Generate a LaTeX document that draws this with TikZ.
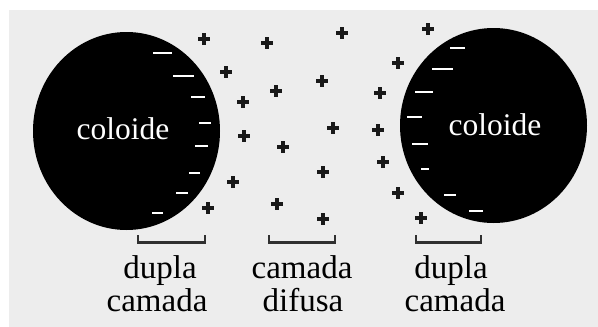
\documentclass[tikz,border=0pt]{standalone}
\usepackage{fontspec}
\setmainfont{Liberation Serif}
\definecolor{bg}{RGB}{237,237,237}
\definecolor{ink}{RGB}{25,25,25}
\begin{document}
\begin{tikzpicture}[x=1pt,y=-1pt,
  plus/.style={draw=ink,line width=3.1pt},
  minus/.style={draw=white,line width=2pt},
  bracket/.style={draw=ink!90,line width=2.6pt},
  colloid/.style={fill=black},
  lbl/.style={font=\fontsize{33}{35}\selectfont,align=center,text=black,inner sep=0pt},
  ctxt/.style={font=\fontsize{31.5}{33}\selectfont,text=white,inner sep=0pt,anchor=base}]
\useasboundingbox (0,0) rectangle (598,327);
\fill[white] (0,0) rectangle (598,327);
\fill[bg] (9,10) rectangle (598,327);
% colloids
\fill[colloid] (126.5,131) ellipse [x radius=93.5,y radius=99];
\fill[colloid] (493.5,125.5) ellipse [x radius=93.5,y radius=97.5];
\node[ctxt] (c1) at (123,139) {coloide};
\node[ctxt] (c2) at (495,135) {coloide};
% minus signs, left
\foreach \a/\b/\y in {153/172/53,173/194/76,191/205/97,199/211/123,195/208/146,189/200/173,176/188/193,152/163/213}
  \draw[minus] (\a,\y) -- (\b,\y);
% minus signs, right
\foreach \a/\b/\y in {450/465/48,432/453/69,415/433/92,407/422/117,412/428/144,421/429/169,444/456/195,469/483/211}
  \draw[minus] (\a,\y) -- (\b,\y);
% plus signs
\foreach \x/\y in {204/39,267/43,342/33,428/29,226/72,276/91,322/81,398/63,243/102,380/93,244/136,283/147,333/128,378/130,233/182,323/172,383/162,208/208,277/204,323/219,398/193,421/218}
  {\draw[plus] (\x-6,\y) -- (\x+6,\y); \draw[plus] (\x,\y-6) -- (\x,\y+6);}
% brackets
\draw[bracket] (138,235) -- (138,242.5) -- (205,242.5) -- (205,235);
\draw[bracket] (269,235) -- (269,242.5) -- (335,242.5) -- (335,235);
\draw[bracket] (416,235) -- (416,242.5) -- (481,242.5) -- (481,235);
% labels
\node[lbl,anchor=base] (l1a) at (160,278) {dupla};
\node[lbl,anchor=base] (l1b) at (157,311) {camada};
\node[lbl,anchor=base] (l2a) at (302,278) {camada};
\node[lbl,anchor=base] (l2b) at (303,311) {difusa};
\node[lbl,anchor=base] (l3a) at (451,278) {dupla};
\node[lbl,anchor=base] (l3b) at (455,311) {camada};
\end{tikzpicture}
\end{document}
